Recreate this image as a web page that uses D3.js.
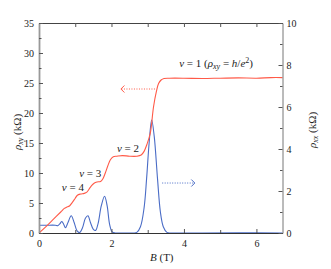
<!DOCTYPE html>
<html>
<head>
<meta charset="utf-8">
<script src="https://cdn.jsdelivr.net/npm/d3@7"></script>
<style>
  body { margin: 0; background: #fff; }
  svg text { font-family: "Liberation Serif", "DejaVu Serif", serif; }
</style>
</head>
<body>
<div id="chart"></div>
<script>
// rho_xy (left axis, kOhm) vs B (T)
const bXY = [0, 0.2, 0.4, 0.6, 0.7, 0.76, 0.84, 0.92, 1.0, 1.06, 1.15, 1.25, 1.32, 1.38, 1.45, 1.52, 1.6, 1.7, 1.76, 1.83, 1.9, 1.97, 2.05, 2.15, 2.3, 2.5, 2.7, 2.82, 2.9, 2.98, 3.07, 3.16, 3.24, 3.3, 3.37, 3.45, 3.6, 4.0, 4.5, 5.0, 5.5, 6.0, 6.4, 6.72];
const rhoXY = [0, 1.1, 2.3, 3.5, 4.1, 4.3, 4.5, 5.1, 5.8, 6.3, 6.5, 6.6, 6.8, 7.3, 7.9, 8.3, 8.5, 8.6, 9.0, 10.0, 11.2, 12.2, 12.7, 12.8, 12.9, 12.8, 12.8, 13.0, 13.6, 14.8, 16.6, 21.0, 23.6, 24.9, 25.5, 25.75, 25.8, 25.8, 25.75, 25.8, 25.85, 25.8, 25.9, 25.9];

// rho_xx (right axis, kOhm) vs B (T)
const bXX = [0, 0.2, 0.45, 0.52, 0.58, 0.63, 0.68, 0.73, 0.8, 0.89, 0.97, 1.05, 1.12, 1.2, 1.28, 1.35, 1.42, 1.5, 1.56, 1.63, 1.72, 1.81, 1.88, 1.95, 2.02, 2.1, 2.4, 2.6, 2.7, 2.8, 2.9, 2.97, 3.04, 3.11, 3.18, 3.27, 3.35, 3.43, 3.53, 3.65, 4.5, 5.5, 6.72];
const rhoXX = [0.37, 0.37, 0.37, 0.35, 0.45, 0.55, 0.42, 0.25, 0.5, 0.82, 0.5, 0.1, 0.02, 0.25, 0.7, 0.82, 0.5, 0.17, 0.12, 0.45, 1.3, 1.75, 1.3, 0.4, 0.05, 0, 0, 0, 0.03, 0.3, 1.2, 2.6, 4.3, 5.38, 4.6, 2.6, 1.0, 0.3, 0.03, 0, 0, 0.01, 0];

const xTicks = [0, 2, 4, 6];
const xMinor = [1, 3, 5];
const leftTicks = [0, 5, 10, 15, 20, 25, 30, 35];
const leftMinor = [2.5, 7.5, 12.5, 17.5, 22.5, 27.5, 32.5];
const rightTicks = [0, 2, 4, 6, 8, 10];
const rightMinor = [1, 3, 5, 7, 9];

const W = 331, H = 269;
const margin = { top: 23, right: 48.5, bottom: 36, left: 39 };

const svg = d3.select("#chart").append("svg")
  .attr("width", W).attr("height", H);

const x = d3.scaleLinear().domain([0, 6.72]).range([margin.left, W - margin.right]);
const yL = d3.scaleLinear().domain([0, 35]).range([H - margin.bottom, margin.top]);
const yR = d3.scaleLinear().domain([0, 10]).range([H - margin.bottom, margin.top]);

const red = "#ff5a48", blue = "#4a6cc6";

// curves
const lineXY = d3.line().x((d, i) => x(bXY[i])).y(d => yL(d)).curve(d3.curveCatmullRom.alpha(0.5));
const lineXX = d3.line().x((d, i) => x(bXX[i])).y(d => yR(d)).curve(d3.curveCatmullRom.alpha(0.5));

svg.append("path").attr("d", lineXX(rhoXX))
  .attr("fill", "none").attr("stroke", blue).attr("stroke-width", 1.1);
svg.append("path").attr("d", lineXY(rhoXY))
  .attr("fill", "none").attr("stroke", red).attr("stroke-width", 1.1);

// axes
function styleAxis(g, color, width) {
  g.select(".domain").attr("stroke", color).attr("stroke-width", width);
  g.selectAll(".tick line").attr("stroke", "#555");
  g.selectAll(".tick text").attr("fill", "#222").style("font-size", "10px")
    .style("font-family", "'Liberation Serif', serif");
}

const gBottom = svg.append("g").attr("transform", `translate(0,${H - margin.bottom})`)
  .call(d3.axisBottom(x).tickValues(xTicks).tickSizeInner(-4).tickSizeOuter(0).tickPadding(7).tickFormat(d3.format("d")));
styleAxis(gBottom, "#333", 1);
svg.append("g").attr("transform", `translate(0,${H - margin.bottom})`)
  .call(d3.axisBottom(x).tickValues(xMinor).tickSize(-3).tickFormat(""))
  .call(g => { g.select(".domain").remove(); g.selectAll("line").attr("stroke", "#555"); });

const gTop = svg.append("g").attr("transform", `translate(0,${margin.top})`)
  .call(d3.axisTop(x).tickValues(xTicks.concat(xMinor)).tickSizeInner(-4).tickSizeOuter(0).tickFormat(""));
styleAxis(gTop, "#444", 1);

const gLeft = svg.append("g").attr("transform", `translate(${margin.left},0)`)
  .call(d3.axisLeft(yL).tickValues(leftTicks).tickSizeInner(-4).tickSizeOuter(0).tickPadding(5));
styleAxis(gLeft, "#999", 1.8);
svg.append("g").attr("transform", `translate(${margin.left},0)`)
  .call(d3.axisLeft(yL).tickValues(leftMinor).tickSize(-2.5).tickFormat(""))
  .call(g => { g.select(".domain").remove(); g.selectAll("line").attr("stroke", "#555"); });

const gRight = svg.append("g").attr("transform", `translate(${W - margin.right},0)`)
  .call(d3.axisRight(yR).tickValues(rightTicks).tickSizeInner(-4).tickSizeOuter(0).tickPadding(4));
styleAxis(gRight, "#777", 1);
svg.append("g").attr("transform", `translate(${W - margin.right},0)`)
  .call(d3.axisRight(yR).tickValues(rightMinor).tickSize(-2.5).tickFormat(""))
  .call(g => { g.select(".domain").remove(); g.selectAll("line").attr("stroke", "#555"); });

// axis labels
const lab = svg.append("text").attr("x", (margin.left + W - margin.right) / 2 + 1).attr("y", 261)
  .attr("text-anchor", "middle").style("font-size", "11px").attr("fill", "#222");
lab.append("tspan").style("font-style", "italic").text("B");
lab.append("tspan").text(" (T)");

function rhoLabel(px, py, sub) {
  const t = svg.append("text").attr("transform", `translate(${px},${py}) rotate(-90)`)
    .attr("text-anchor", "middle").style("font-size", "11px").attr("fill", "#222");
  t.append("tspan").style("font-style", "italic").text("ρ");
  t.append("tspan").style("font-style", "italic").style("font-size", "8px").attr("dy", 2).text(sub);
  t.append("tspan").attr("dy", -2).text(" (kΩ)");
}
rhoLabel(21, 132, "xy");
rhoLabel(316, 130, "xx");

// filling factor labels
function nuLabel(b, v, n) {
  const t = svg.append("text").attr("x", x(b)).attr("y", yL(v))
    .style("font-size", "11px").attr("fill", "#222");
  t.append("tspan").style("font-style", "italic").text("ν");
  t.append("tspan").text(" = " + n);
  return t;
}
nuLabel(0.63, 7.0, "4");
nuLabel(1.11, 9.4, "3");
nuLabel(2.15, 13.5, "2");
const n1 = nuLabel(3.87, 27.6, "1 (");
n1.append("tspan").style("font-style", "italic").text("ρ");
n1.append("tspan").style("font-style", "italic").style("font-size", "8px").attr("dy", 2).text("xy");
n1.append("tspan").attr("dy", -2).text(" = ");
n1.append("tspan").style("font-style", "italic").text("h");
n1.append("tspan").text("/");
n1.append("tspan").style("font-style", "italic").text("e");
n1.append("tspan").style("font-size", "8px").attr("dy", -4).text("2");
n1.append("tspan").attr("dy", 4).text(")");

// dotted arrows pointing to each axis
function arrow(b0, b1, py, color) {
  const x0 = x(b0), x1 = x(b1);
  svg.append("line").attr("x1", x0).attr("x2", x1).attr("y1", py).attr("y2", py)
    .attr("stroke", color).attr("stroke-width", 1).attr("stroke-dasharray", "1,1.5");
  const dir = x1 > x0 ? -1 : 1;
  svg.append("path")
    .attr("d", `M${x1 + dir * 3.5},${py - 3.5} L${x1},${py} L${x1 + dir * 3.5},${py + 3.5}`)
    .attr("fill", "none").attr("stroke", color).attr("stroke-width", 1);
}
arrow(3.2, 2.26, yL(24), red);
arrow(3.4, 4.3, yR(2.38), blue);
</script>
</body>
</html>
